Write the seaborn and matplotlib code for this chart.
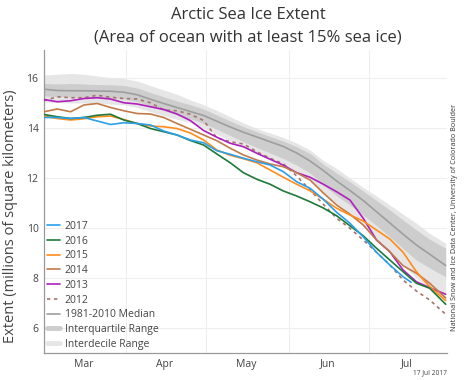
import matplotlib
matplotlib.use("Agg")
import matplotlib.pyplot as plt
import seaborn as sns
import numpy as np
import pandas as pd
from matplotlib.lines import Line2D

# ---- data (days since 1 March) ----
days = [0, 5, 10, 15, 20, 25, 30, 35, 40, 45, 50, 55, 60, 65, 70, 75, 80, 85, 90,
        95, 100, 105, 110, 115, 120, 125, 130, 135, 140, 145, 151]

median = [15.55, 15.50, 15.49, 15.49, 15.48, 15.47, 15.43, 15.33, 15.15, 14.98, 14.82,
          14.66, 14.50, 14.27, 14.04, 13.83, 13.64, 13.45, 13.26, 13.00, 12.68, 12.30,
          11.88, 11.50, 11.10, 10.65, 10.20, 9.75, 9.32, 8.95, 8.50]
iqr_lo = [15.28, 15.25, 15.24, 15.24, 15.22, 15.20, 15.16, 15.06, 14.88, 14.70, 14.52,
          14.38, 14.18, 13.95, 13.70, 13.45, 13.22, 13.00, 12.78, 12.52, 12.20, 11.72,
          11.30, 10.92, 10.52, 10.10, 9.65, 9.18, 8.72, 8.40, 8.05]
iqr_hi = [15.78, 15.76, 15.78, 15.76, 15.74, 15.73, 15.70, 15.60, 15.42, 15.25, 15.08,
          14.93, 14.76, 14.52, 14.28, 14.05, 13.85, 13.66, 13.48, 13.25, 12.98, 12.55,
          12.20, 11.85, 11.48, 11.10, 10.72, 10.32, 9.92, 9.55, 9.19]
idr_lo = [15.05, 15.02, 15.00, 15.00, 14.98, 14.96, 14.92, 14.82, 14.65, 14.50, 14.35,
          14.22, 14.00, 13.75, 13.48, 13.22, 12.98, 12.75, 12.52, 12.25, 11.92, 11.40,
          10.98, 10.55, 10.08, 9.58, 9.05, 8.50, 7.99, 7.60, 7.19]
idr_hi = [16.12, 16.15, 16.18, 16.15, 16.08, 16.02, 15.98, 15.88, 15.70, 15.52, 15.35,
          15.12, 14.93, 14.70, 14.45, 14.20, 13.98, 13.80, 13.62, 13.40, 13.12, 12.70,
          12.38, 12.00, 11.62, 11.28, 10.92, 10.55, 10.19, 9.78, 9.39]

y2012 = [15.09, 15.25, 15.21, 15.21, 15.31, 15.23, 15.18, 15.16, 15.01, 14.72, 14.69,
         14.55, 14.30, 13.60, 13.45, 13.36, 13.05, 12.79, 12.56, 12.08, 11.52, 10.95,
         10.39, 9.99, 9.52, 9.03, 8.52, 7.92, 7.48, 7.12, 6.55]
y2013 = [15.14, 15.05, 15.09, 15.18, 15.21, 15.16, 15.01, 14.96, 14.85, 14.74, 14.56,
         14.30, 13.90, 13.63, 13.39, 13.25, 12.99, 12.75, 12.51, 12.21, 12.03, 11.75,
         11.45, 11.12, 10.39, 9.52, 9.05, 8.32, 7.85, 7.61, 7.35]
y2014 = [14.65, 14.76, 14.65, 14.92, 14.98, 14.82, 14.69, 14.58, 14.56, 14.42, 14.18,
         13.95, 13.72, 13.49, 13.19, 12.92, 12.72, 12.56, 12.45, 12.21, 11.92, 11.40,
         10.92, 10.55, 10.12, 9.52, 9.05, 8.49, 8.19, 7.79, 7.20]
y2015 = [14.48, 14.38, 14.32, 14.37, 14.45, 14.48, 14.34, 14.18, 14.08, 14.05, 13.98,
         13.80, 13.52, 13.12, 12.91, 12.77, 12.61, 12.32, 12.03, 11.75, 11.49, 11.15,
         10.79, 10.52, 10.28, 9.92, 9.56, 9.03, 8.25, 7.65, 7.10]
y2016 = [14.54, 14.45, 14.38, 14.42, 14.51, 14.55, 14.32, 14.18, 13.98, 13.85, 13.72,
         13.50, 13.32, 12.96, 12.61, 12.21, 11.95, 11.75, 11.48, 11.28, 11.05, 10.80,
         10.49, 10.09, 9.69, 9.19, 8.72, 8.25, 7.79, 7.59, 6.95]
days2017 = [0, 5, 10, 15, 20, 25, 30, 35, 40, 45, 50, 55, 60, 65, 70, 75, 80, 85, 90,
            95, 100, 105, 110, 115, 120, 125, 130, 135, 138]
y2017 = [14.42, 14.42, 14.38, 14.42, 14.28, 14.14, 14.21, 14.18, 14.12, 13.88, 13.72,
         13.52, 13.41, 13.09, 12.95, 12.79, 12.65, 12.52, 12.25, 11.85, 11.59, 11.15,
         10.63, 10.19, 9.65, 9.03, 8.52, 8.05, 7.83]

month_labels = ["Mar", "Apr", "May", "Jun", "Jul"]
month_starts = [0, 31, 61, 92, 122]
month_mids = [15, 45.5, 76, 106.5, 136.5]
y_ticks = [6, 8, 10, 12, 14, 16]

# ---- style ----
sns.set_theme(style="white")
plt.rcParams["font.family"] = ["Open Sans", "DejaVu Sans"]
text_col = "#444444"

fig = plt.figure(figsize=(4.66, 3.80), dpi=100)
ax = fig.add_axes([44 / 466, 1 - 353 / 380, (447 - 44) / 466, (353 - 50) / 380])

band_id_col = "#e6e6e6"
band_iq_col = "#cdcdcd"
ax.fill_between(days, idr_lo, idr_hi, color=band_id_col, lw=0, zorder=1)
ax.fill_between(days, iqr_lo, iqr_hi, color=band_iq_col, lw=0, zorder=2)

lw = 1.2
sns.lineplot(x=days, y=median, color="#9e9e9e", lw=lw, ax=ax, zorder=3)

series = [
    ("2012", days, y2012, "#a8736c", (0, (2, 2.2))),
    ("2013", days, y2013, "#b01fbe", "-"),
    ("2014", days, y2014, "#c27a48", "-"),
    ("2015", days, y2015, "#ff8c1a", "-"),
    ("2016", days, y2016, "#1d7a38", "-"),
    ("2017", days2017, y2017, "#2a9fea", "-"),
]
for i, (name, d, v, c, ls) in enumerate(series):
    sns.lineplot(x=d, y=v, color=c, lw=lw, ax=ax, zorder=4 + i)
    ax.lines[-1].set_linestyle(ls)

ax.set_xlim(0, 151.5)
ax.set_ylim(5.0, 17.12)

# grid
ax.set_xticks(month_starts, minor=True)
ax.set_xticks(month_mids)
ax.set_xticklabels(month_labels)
ax.set_yticks(y_ticks)
ax.grid(False)
ax.grid(True, which="minor", axis="x", color="#eeeeee", lw=0.8)
ax.grid(True, which="major", axis="y", color="#eeeeee", lw=0.8)
ax.set_axisbelow(True)
ax.tick_params(axis="x", which="major", length=0, labelsize=7.5, labelcolor=text_col, pad=4)
ax.tick_params(axis="x", which="minor", length=3, direction="in", color="#bbbbbb", width=0.8)
ax.tick_params(axis="y", length=0, labelsize=7.5, labelcolor=text_col, pad=4)
for s in ["top", "right"]:
    ax.spines[s].set_visible(False)
ax.spines["left"].set_color("#999999")
ax.spines["bottom"].set_color("#999999")
ax.spines["left"].set_linewidth(0.9)
ax.spines["bottom"].set_linewidth(0.9)
ax.set_xlabel("")
ax.set_ylabel("Extent (millions of square kilometers)", fontsize=10.5, color=text_col)
ax.yaxis.set_label_coords(-0.064, 0.45)

# legend
handles = [
    Line2D([], [], color="#2a9fea", lw=lw),
    Line2D([], [], color="#1d7a38", lw=lw),
    Line2D([], [], color="#ff8c1a", lw=lw),
    Line2D([], [], color="#c27a48", lw=lw),
    Line2D([], [], color="#b01fbe", lw=lw),
    Line2D([], [], color="#a8736c", lw=lw, ls=(0, (2, 2.2))),
    Line2D([], [], color="#9e9e9e", lw=lw),
    Line2D([], [], color=band_iq_col, lw=3.5),
    Line2D([], [], color=band_id_col, lw=3.5),
]
labels = ["2017", "2016", "2015", "2014", "2013", "2012", "1981-2010 Median",
          "Interquartile Range", "Interdecile Range"]
leg = ax.legend(handles, labels, loc="lower left", bbox_to_anchor=(0.0, 0.0),
                frameon=False, fontsize=7.5, labelcolor=text_col, handlelength=1.2,
                handletextpad=0.5, labelspacing=0.36, borderaxespad=0.1, borderpad=0.2)
leg.set_zorder(20)

# titles
fig.text(248 / 466, 1 - 15 / 380, "Arctic Sea Ice Extent", ha="center", va="center",
         fontsize=12, color="#333333")
fig.text(248 / 466, 1 - 38 / 380, "(Area of ocean with at least 15% sea ice)", ha="center",
         va="center", fontsize=12, color="#333333")
fig.text(455 / 466, 1 - 217 / 380,
         "National Snow and Ice Data Center, University of Colorado Boulder",
         rotation=90, ha="center", va="center", fontsize=5.2, color="#333333")
fig.text(447 / 466, 1 - 373 / 380, "17 Jul 2017", ha="right", va="center",
         fontsize=4.8, color="#444444")

fig.savefig("out.png", dpi=100)
